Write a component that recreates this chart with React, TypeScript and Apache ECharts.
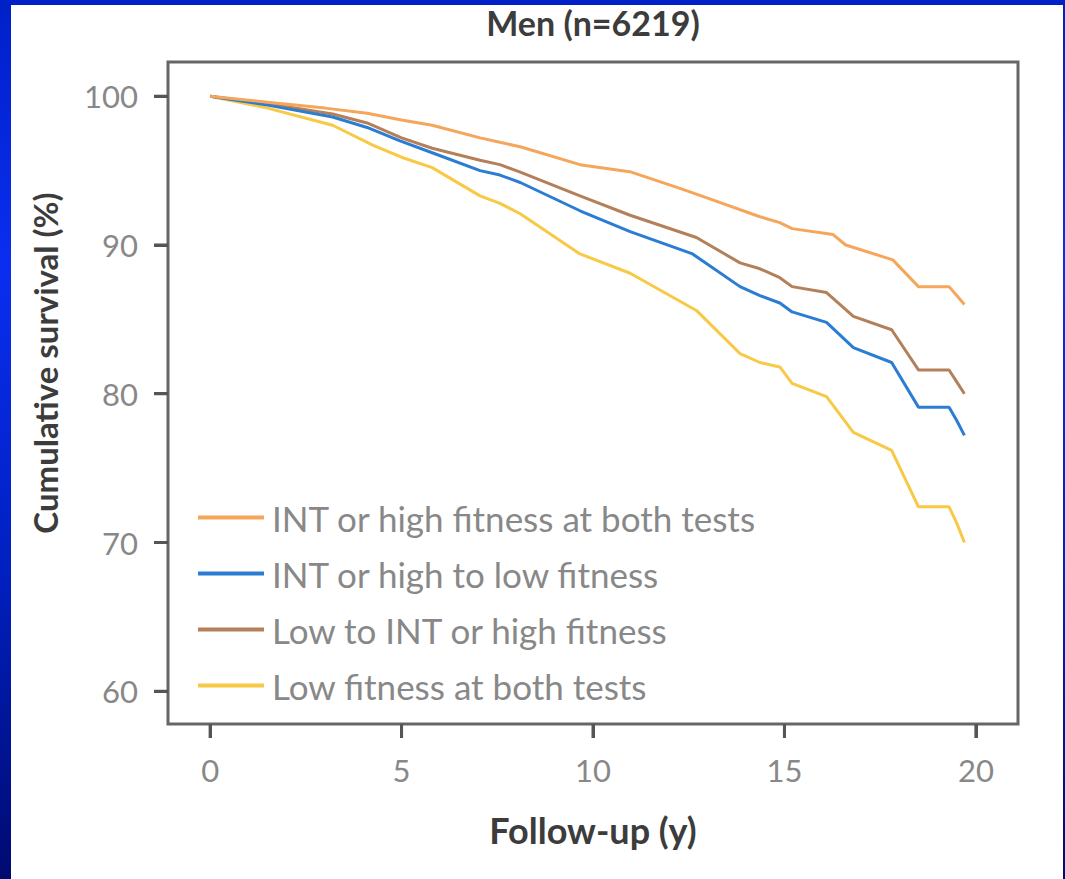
import React, { useEffect, useRef } from "react";
import * as echarts from "echarts";

const seriesNames = [
  "INT or high fitness at both tests",
  "INT or high to low fitness",
  "Low to INT or high fitness",
  "Low fitness at both tests",
];
const seriesColors = ["#f5a65b", "#2b7dd4", "#b3805a", "#f7c945"];

const orangeT = [0, 1.5, 3, 4.1, 5, 5.8, 7.05, 7.57, 8.1, 9.66, 11, 12.27, 13.05, 14.36, 14.88, 15.2, 16.27, 16.6, 17.83, 18.5, 19.3, 19.5, 19.7];
const orangeS = [100, 99.6, 99.2, 98.85, 98.4, 98.05, 97.2, 96.9, 96.6, 95.4, 94.9, 93.8, 93.1, 91.9, 91.5, 91.1, 90.7, 90.0, 89.0, 87.2, 87.2, 86.6, 86.0];

const blueT = [0, 1.5, 3.2, 4.1, 4.96, 5.8, 7.05, 7.57, 8.1, 9.66, 10.97, 12.6, 13.84, 14.36, 14.88, 15.2, 16.1, 16.8, 17.8, 18.5, 19.3, 19.5, 19.7];
const blueS = [100, 99.4, 98.6, 97.9, 97.0, 96.2, 95.0, 94.7, 94.2, 92.3, 90.9, 89.4, 87.2, 86.6, 86.1, 85.5, 84.8, 83.1, 82.1, 79.1, 79.1, 78.2, 77.2];

const brownT = [0, 1.5, 3.2, 4.1, 5, 5.8, 7.05, 7.57, 8.1, 9.66, 10.97, 12.7, 13.84, 14.36, 14.88, 15.2, 16.1, 16.8, 17.8, 18.5, 19.3, 19.5, 19.7];
const brownS = [100, 99.5, 98.8, 98.2, 97.2, 96.5, 95.7, 95.4, 94.9, 93.3, 92.0, 90.5, 88.8, 88.4, 87.8, 87.2, 86.8, 85.2, 84.3, 81.6, 81.6, 80.8, 80.0];

const yellowT = [0, 1.5, 3.2, 4.26, 5, 5.8, 7.05, 7.57, 8.1, 9.66, 10.97, 12.7, 13.84, 14.36, 14.88, 15.2, 16.1, 16.8, 17.8, 18.5, 19.3, 19.5, 19.7];
const yellowS = [100, 99.2, 98.05, 96.7, 95.9, 95.2, 93.3, 92.8, 92.1, 89.4, 88.1, 85.6, 82.7, 82.1, 81.8, 80.7, 79.8, 77.4, 76.2, 72.4, 72.4, 71.3, 70.0];

const xTicks = [0, 5, 10, 15, 20];
const yTicks = [60, 70, 80, 90, 100];
const xExtent = [-1.1, 21.1];
const yExtent = [57.8, 102.3];

const allT = [orangeT, blueT, brownT, yellowT];
const allS = [orangeS, blueS, brownS, yellowS];

export default function App() {
  const ref = useRef<HTMLDivElement>(null);
  useEffect(() => {
    if (!ref.current) return;
    const chart = echarts.init(ref.current, undefined, { renderer: "svg" });
    const font = "Lato, 'Open Sans', sans-serif";
    const hidden = { show: false };
    const tickStyle = { show: true, inside: false, length: 14, lineStyle: { color: "#555", width: 3 } };
    const yNameText = {
      type: "text",
      x: 45,
      y: 363,
      rotation: Math.PI / 2,
      style: {
        text: "Cumulative survival (%)",
        fontFamily: font,
        fontSize: 33,
        fontWeight: "bold",
        fill: "#3c3c3c",
        align: "center",
        verticalAlign: "middle",
      },
    };
    chart.setOption({
      animation: false,
      backgroundColor: "transparent",
      title: {
        text: "Men (n=6219)",
        left: 593,
        top: 5,
        padding: 0,
        textAlign: "center",
        textStyle: { fontFamily: font, fontSize: 34, fontWeight: "bold", color: "#3c3c3c" },
      },
      grid: {
        left: 168,
        top: 62,
        right: 47,
        bottom: 155,
        show: true,
        borderColor: "#666",
        borderWidth: 3,
        backgroundColor: "transparent",
      },
      legend: {
        orient: "vertical",
        left: 198,
        top: 500,
        padding: 0,
        itemWidth: 66,
        itemHeight: 4,
        itemGap: 21,
        icon: "rect",
        textStyle: { fontFamily: font, fontSize: 35, color: "#888", lineHeight: 35, padding: [0, 0, 0, 3] },
        data: seriesNames,
      },
      xAxis: {
        type: "value",
        min: xExtent[0],
        max: xExtent[1],
        axisLine: { show: false, onZero: false },
        splitLine: hidden,
        axisTick: { ...tickStyle, customValues: xTicks },
        axisLabel: { fontFamily: font, fontSize: 31, color: "#888", margin: 30, customValues: xTicks },
        name: "Follow-up (y)",
        nameLocation: "middle",
        nameGap: 88,
        nameTextStyle: { fontFamily: font, fontSize: 36, fontWeight: "bold", color: "#3c3c3c" },
      },
      yAxis: {
        type: "value",
        min: yExtent[0],
        max: yExtent[1],
        axisLine: { show: false, onZero: false },
        splitLine: hidden,
        axisTick: { ...tickStyle, customValues: yTicks },
        axisLabel: { fontFamily: font, fontSize: 31, color: "#888", margin: 30, customValues: yTicks },
      },
      graphic: [yNameText],
      series: seriesNames.map((name, i) => ({
        name,
        type: "line",
        showSymbol: false,
        symbol: "none",
        smooth: false,
        color: seriesColors[i],
        lineStyle: { width: 3, color: seriesColors[i] },
        data: allT[i].map((t, j) => [t, allS[i][j]]),
        z: 10 - i,
      })),
    });

    // Tick marks positioned through the chart's own scales (convertToPixel).
    const tickLines: any[] = [];
    xTicks.forEach((v) => {
      const p = chart.convertToPixel({ gridIndex: 0 }, [v, yExtent[0]]) as number[];
      if (p) {
        tickLines.push({
          type: "line",
          z: 100,
          silent: true,
          shape: { x1: p[0], y1: p[1], x2: p[0], y2: p[1] + 14 },
          style: { stroke: "#555", lineWidth: 3 },
        });
      }
    });
    yTicks.forEach((v) => {
      const p = chart.convertToPixel({ gridIndex: 0 }, [xExtent[0], v]) as number[];
      if (p) {
        tickLines.push({
          type: "line",
          z: 100,
          silent: true,
          shape: { x1: p[0] - 14, y1: p[1], x2: p[0], y2: p[1] },
          style: { stroke: "#555", lineWidth: 3 },
        });
      }
    });
    chart.setOption({ graphic: [yNameText, ...tickLines] });

    return () => chart.dispose();
  }, []);

  return (
    <div
      style={{
        position: "fixed",
        left: 0,
        top: 0,
        width: 1065,
        height: 879,
        background: "linear-gradient(to bottom, #0020c8 0%, #0a2ef0 30%, #0020c0 65%, #000a70 100%)",
      }}
    >
      <div style={{ position: "absolute", left: 11, top: 5, width: 1052, height: 874, background: "#fff" }} />
      <div ref={ref} style={{ position: "absolute", left: 0, top: 0, width: 1065, height: 879 }} />
    </div>
  );
}
